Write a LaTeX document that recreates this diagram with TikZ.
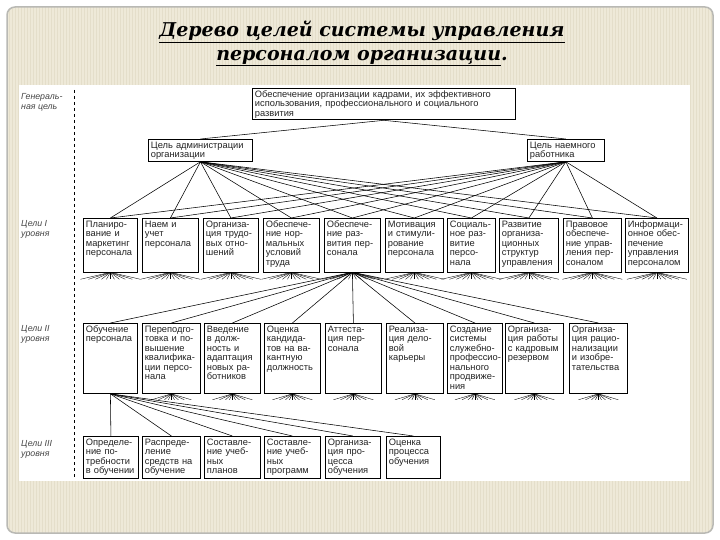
\documentclass[tikz,border=0pt]{standalone}
\usepackage{fontspec}
\setmainfont{DejaVu Serif}
\setsansfont{Liberation Sans}
\usepackage{tikz}
\usetikzlibrary{positioning,calc}

\definecolor{slidebg}{RGB}{238,233,216}
\definecolor{stripe}{RGB}{228,222,202}
\definecolor{framegray}{RGB}{185,185,180}
\definecolor{inkgray}{RGB}{35,35,35}
\definecolor{sidegray}{RGB}{70,70,70}

\begin{document}
\begin{tikzpicture}[x=1pt, y=-1pt,
  box/.style={draw=black, line width=0.8pt, fill=white, anchor=north west,
              inner xsep=2.5pt, inner ysep=2.5pt, align=left,
              font=\fontsize{9.3}{9.5}\selectfont\sffamily, text=inkgray,
              text height=6.5pt},
  lvla/.style={box, text width=#1, text depth=42pt},
  lvlb/.style={box, text width=#1, text depth=58.5pt},
  lvlc/.style={box, text width=#1, text depth=30.5pt},
  side/.style={anchor=north west, align=left, inner sep=0pt,
               font=\fontsize{8.8}{10}\selectfont\sffamily\itshape, text=sidegray},
  ttl/.style={font=\fontsize{19}{23}\selectfont\bfseries\itshape, inner sep=0pt},
  ln/.style={line width=0.55pt},
  fan/.style={line width=0.35pt}
]
  % slide background
  \useasboundingbox (0,0) rectangle (720,540);
  \fill[white] (0,0) rectangle (720,540);
  \fill[slidebg, rounded corners=8pt] (7,7) rectangle (713,533);
  \begin{scope}
    \clip[rounded corners=8pt] (7,7) rectangle (713,533);
    \foreach \x in {9,12,...,712} \draw[stripe, line width=1pt] (\x,7) -- (\x,533);
  \end{scope}
  \draw[framegray, line width=1.5pt, rounded corners=8pt] (7,7) rectangle (713,533);

  % title
  \node[ttl] (t1) at (362,32) {\underline{Дерево целей системы управления}};
  \node[ttl] (t2) at (362,58) {\underline{персоналом организации}.};

  % diagram sheet
  \fill[white] (19,85) rectangle (690,481);
  \draw[dashed, line width=0.6pt] (74,90) -- (74,479);

  \node[side] (lg) at (21,93) {Генераль-\\ная цель};
  \node[side] (l1) at (21,220) {Цели I\\уровня};
  \node[side] (l2) at (21,325) {Цели II\\уровня};
  \node[side] (l3) at (21,440) {Цели III\\уровня};

  % general goal
  \node[box, text width=258pt, text depth=20pt] (top) at (252,88)
    {Обеспечение организации кадрами, их эффективного\\
     использования, профессионального и социального\\развития};
  \node[box, text width=99pt, text depth=10.5pt] (adm) at (148,139)
    {Цель администрации\\организации};
  \node[box, text width=72pt, text depth=10.5pt] (wrk) at (527,139)
    {Цель наемного\\работника};

  % level I
  \node[lvla=49pt] (a1) at (83,218) {Планиро-\\вание и\\маркетинг\\персонала};
  \node[lvla=51pt] (a2) at (142,218) {Наем и\\учет\\персонала};
  \node[lvla=50pt] (a3) at (203,218) {Организа-\\ция трудо-\\вых отно-\\шений};
  \node[lvla=51pt] (a4) at (263,218) {Обеспече-\\ние нор-\\мальных\\условий\\труда};
  \node[lvla=51pt] (a5) at (324,218) {Обеспече-\\ние раз-\\вития пер-\\сонала};
  \node[lvla=53pt] (a6) at (385,218) {Мотивация\\и стимули-\\рование\\персонала};
  \node[lvla=43pt] (a7) at (447,218) {Социаль-\\ное раз-\\витие\\персо-\\нала};
  \node[lvla=54pt] (a8) at (499,218) {Развитие\\организа-\\ционных\\структур\\управления};
  \node[lvla=53pt] (a9) at (563,218) {Правовое\\обеспече-\\ние управ-\\ления пер-\\соналом};
  \node[lvla=58pt] (a10) at (625,218) {Информаци-\\онное обес-\\печение\\управления\\персоналом};

  % level II
  \node[lvlb=49pt] (b1) at (83,323) {Обучение\\персонала};
  \node[lvlb=53pt] (b2) at (142,323) {Переподго-\\товка и по-\\вышение\\квалифика-\\ции персо-\\нала};
  \node[lvlb=51pt] (b3) at (204,323) {Введение\\в долж-\\ность и\\адаптация\\новых ра-\\ботников};
  \node[lvlb=51pt] (b4) at (264,323) {Оценка\\кандида-\\тов на ва-\\кантную\\должность};
  \node[lvlb=51pt] (b5) at (325,323) {Аттеста-\\ция пер-\\сонала};
  \node[lvlb=52pt] (b6) at (386,323) {Реализа-\\ция дело-\\вой\\карьеры};
  \node[lvlb=50pt] (b7) at (447,323) {Создание\\системы\\служебно-\\\mbox{профессио-}\\нального\\продвиже-\\ния};
  \node[lvlb=53pt] (b8) at (505,323) {Организа-\\ция работы\\с кадровым\\резервом};
  \node[lvlb=53pt] (b9) at (569,323) {Организа-\\ция рацио-\\нализации\\и изобре-\\тательства};

  % level III
  \node[lvlc=50pt] (c1) at (83,436) {Определе-\\ние по-\\требности\\в обучении};
  \node[lvlc=53pt] (c2) at (142,436) {Распреде-\\ление\\средств на\\обучение};
  \node[lvlc=51pt] (c3) at (204,436) {Составле-\\ние учеб-\\ных\\планов};
  \node[lvlc=51pt] (c4) at (264,436) {Составле-\\ние учеб-\\ных\\программ};
  \node[lvlc=50pt] (c5) at (325,436) {Организа-\\ция про-\\цесса\\обучения};
  \node[lvlc=49pt] (c6) at (386,436) {Оценка\\процесса\\обучения};

  % connectors
  \draw[ln] (top.south) -- (adm.north);
  \draw[ln] (top.south) -- (wrk.north);
  \foreach \i in {1,...,10} {
    \draw[ln] (adm.south) -- (a\i.north);
    \draw[ln] (wrk.south) -- (a\i.north);
  }
  \foreach \i in {1,...,9} \draw[ln] (a5.south) -- (b\i.north);
  \foreach \i in {1,...,6} \draw[ln] (b1.south) -- (c\i.north);

  % fans below the boxes
  \foreach \i in {1,...,10}
    \foreach \dx in {-30,-22,-15,-9,-4,0,4,9,15,22,30}
      \draw[fan] (a\i.south) -- ++(\dx,7);
  \foreach \i in {2,...,9}
    \foreach \dx in {-20,-13,-7,-3,0,3,7,13,20}
      \draw[fan] (b\i.south) -- ++(\dx,6);
\end{tikzpicture}
\end{document}
